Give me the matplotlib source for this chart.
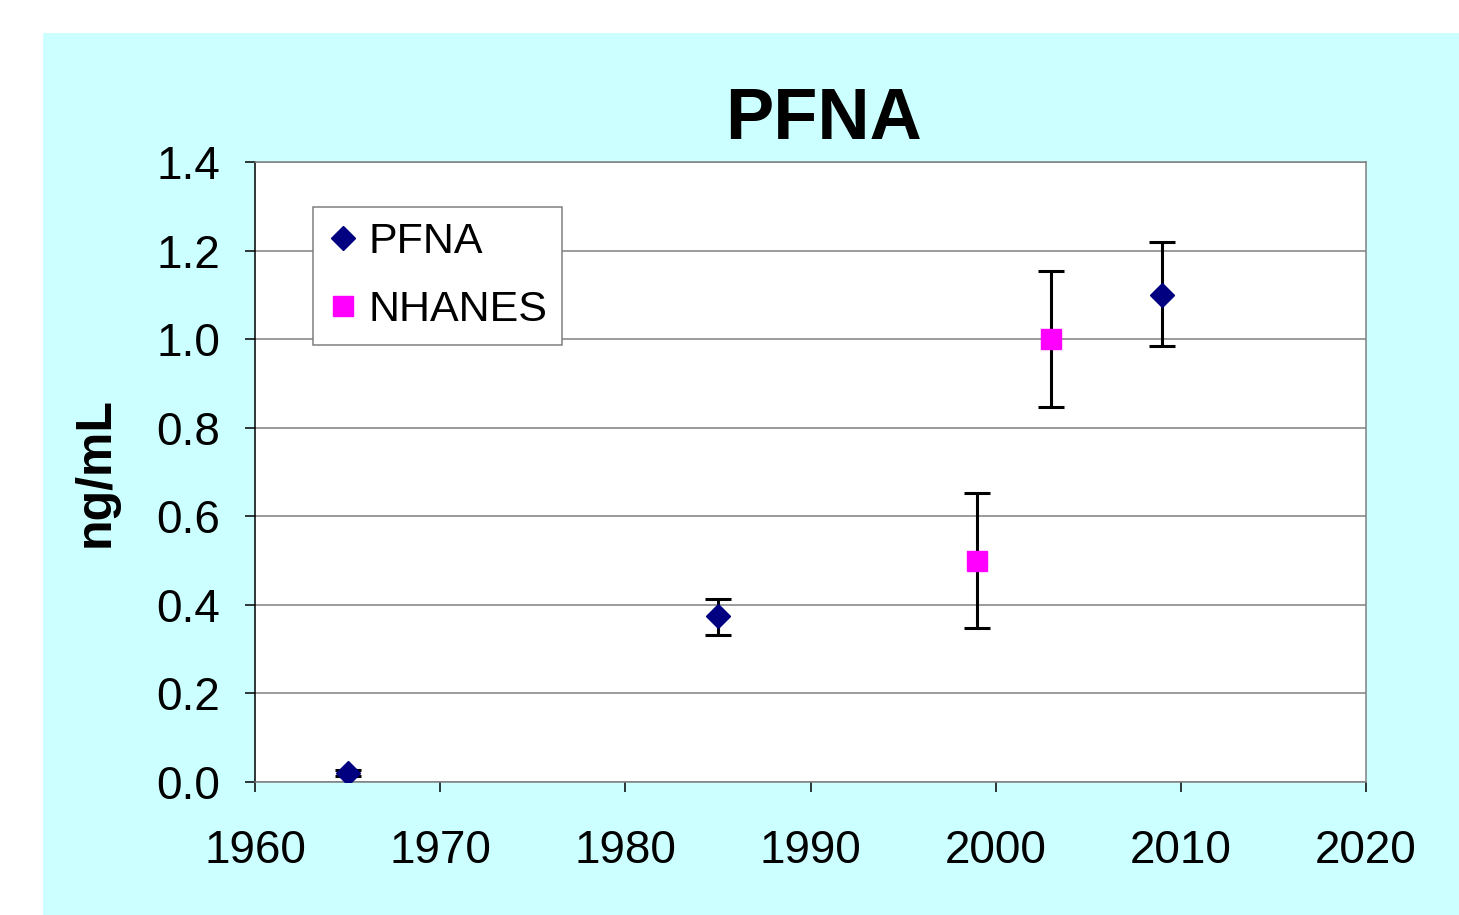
import matplotlib.pyplot as plt
from matplotlib.patches import Rectangle

plt.rcParams['font.family'] = ['Liberation Sans', 'DejaVu Sans']

# PFNA serum data
pfna_years = [1965, 1985, 2009]
pfna_vals = [0.02, 0.375, 1.10]
pfna_err_lo = [0.006, 0.042, 0.115]
pfna_err_hi = [0.006, 0.038, 0.120]

nhanes_years = [1999, 2003]
nhanes_vals = [0.50, 1.00]
nhanes_err_lo = [0.152, 0.153]
nhanes_err_hi = [0.152, 0.154]

fig = plt.figure(figsize=(14.59, 9.15), dpi=100)
fig.patch.set_facecolor("white")
# cyan chart area
fig.patches.append(Rectangle((43 / 1459, 0), 1 - 43 / 1459, 1 - 33 / 915,
                             transform=fig.transFigure, facecolor="#CCFFFF",
                             edgecolor="none", zorder=-10))

ax = fig.add_axes([255 / 1459, 1 - 782 / 915, (1366 - 255) / 1459, (782 - 162) / 915])
ax.set_facecolor("white")

ax.errorbar(pfna_years, pfna_vals, yerr=[pfna_err_lo, pfna_err_hi], fmt="D",
            color="#000080", ms=12, mec="#000080", ecolor="black", elinewidth=2.2,
            capsize=9.5, capthick=2.2, label="PFNA", zorder=3)
ax.errorbar(nhanes_years, nhanes_vals, yerr=[nhanes_err_lo, nhanes_err_hi], fmt="s",
            color="#FF00FF", ms=14.5, mec="#FF00FF", ecolor="black", elinewidth=2.2,
            capsize=9.5, capthick=2.2, label="NHANES", zorder=3)

ax.set_xlim(1960, 2020)
ax.set_ylim(0, 1.4)
ax.set_xticks(range(1960, 2021, 10))
ax.set_yticks([0.0, 0.2, 0.4, 0.6, 0.8, 1.0, 1.2, 1.4])
ax.set_yticklabels([f"{v:.1f}" for v in ax.get_yticks()])

ax.grid(axis="y", color="#808080", linewidth=1.1)
ax.set_axisbelow(True)

for side in ["top", "right", "bottom"]:
    ax.spines[side].set_color("#808080")
    ax.spines[side].set_linewidth(1.1)
ax.spines["left"].set_color("black")
ax.spines["left"].set_linewidth(1.1)

ax.tick_params(axis="both", direction="out", length=7, width=1.1, color="black",
               labelsize=33)
ax.tick_params(axis="y", pad=18)
ax.tick_params(axis="x", pad=27)

ax.set_ylabel("ng/mL", fontsize=36, fontweight="bold", labelpad=27)
fig.text(824 / 1459, 1 - 120 / 915, "PFNA", fontsize=52, fontweight="bold",
         ha="center", va="center")

# handles without error bars for the legend
h1, = ax.plot([], [], "D", color="#000080", ms=12, linestyle="none")
h2, = ax.plot([], [], "s", color="#FF00FF", ms=14.5, linestyle="none")
leg = ax.legend([h1, h2], ["PFNA", "NHANES"], loc="upper left",
                bbox_to_anchor=(58 / 1111, 575 / 620), borderaxespad=0,
                fontsize=31, fancybox=False, framealpha=1, edgecolor="#808080",
                handlelength=0.7, handletextpad=0.23, labelspacing=0.65,
                borderpad=0.35)
leg.get_frame().set_linewidth(1.1)

fig.savefig("out.png", dpi=100)
